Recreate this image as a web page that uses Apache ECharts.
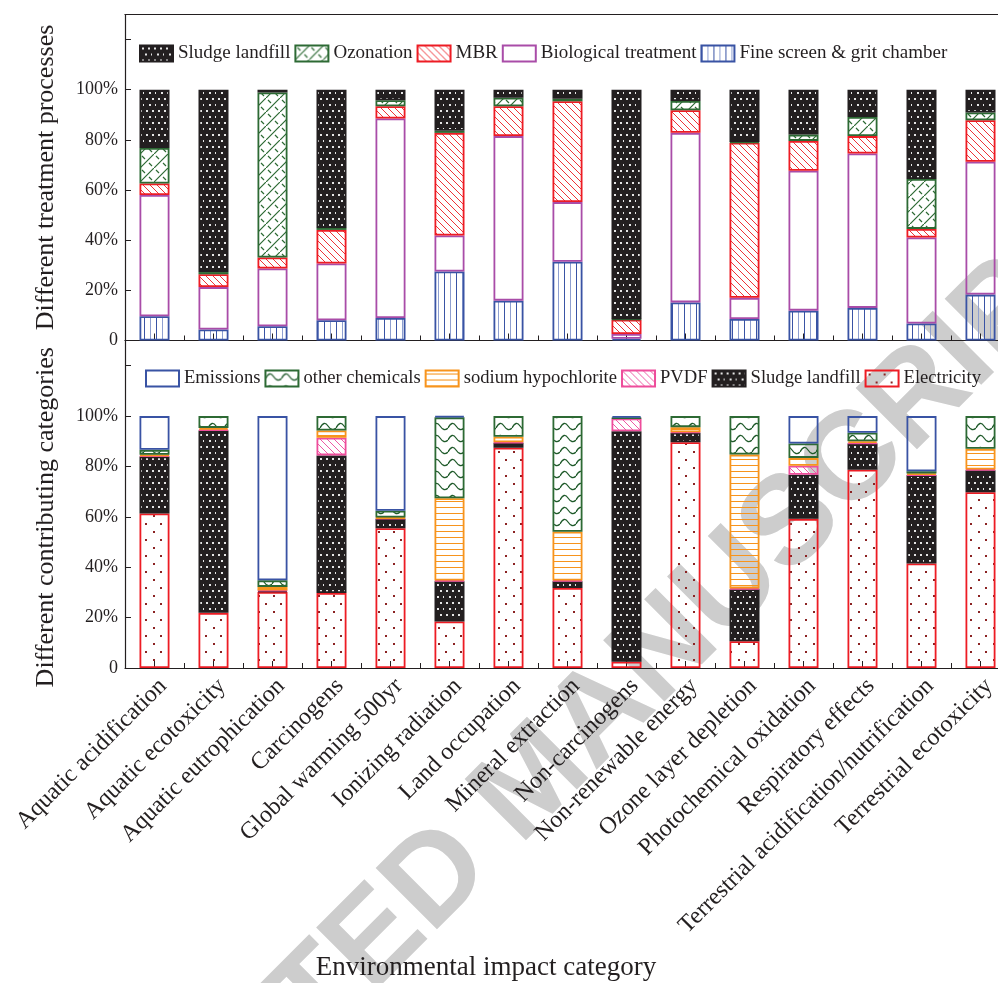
<!DOCTYPE html>
<html>
<head>
<meta charset="utf-8">
<script src="https://cdn.jsdelivr.net/npm/echarts@6/dist/echarts.min.js"></script>
<style>html,body{margin:0;padding:0;background:#fff}#main{width:998px;height:983px}</style>
</head>
<body>
<div id="main"></div>
<script>
const categories = ['Aquatic acidification','Aquatic ecotoxicity','Aquatic eutrophication','Carcinogens','Global warming 500yr','Ionizing radiation','Land occupation','Mineral extraction','Non-carcinogens','Non-renewable energy','Ozone layer depletion','Photochemical oxidation','Respiratory effects','Terrestrial acidification/nutrification','Terrestrial ecotoxicity'];

// Top panel: different treatment processes (%)
const fineScreen = [9.7,4.4,5.7,8.1,9.0,27.5,15.9,31.4,0.7,15.2,8.6,11.9,13.0,6.8,18.3];
const biological = [48.3,16.9,23.0,22.6,79.5,14.4,65.6,23.8,1.9,67.6,8.4,55.8,61.6,34.3,53.0];
const mbr        = [4.6,5.1,4.4,13.4,4.9,40.9,11.9,40.2,5.7,9.0,61.9,11.9,6.9,3.4,16.5];
const ozonation  = [14.2,0.9,65.8,0.8,2.4,0.8,3.4,1.0,0.2,3.7,0.3,2.5,7.6,19.9,3.1];
const sludgeTop  = [23.2,72.7,1.1,55.1,4.2,16.4,3.2,3.6,91.5,4.5,20.8,17.9,10.9,35.6,9.1];

// Bottom panel: different contributing categories (%)
const electricity = [61.3,21.9,30.2,29.8,55.5,18.5,87.4,31.8,2.5,89.6,10.6,59.2,78.7,41.5,69.8];
const sludgeBot   = [22.7,72.4,0.4,54.6,3.7,15.9,2.0,2.6,91.5,3.8,20.7,17.5,10.4,35.0,8.7];
const pvdf        = [0.2,0.3,0.2,7.0,0.2,0.3,0.2,0.3,5.1,0.2,0.3,3.6,0.2,0.2,0.3];
const sodium      = [0.4,0.7,1.4,2.9,0.3,32.7,2.2,19.4,0,2.0,53.1,3.1,0.7,0.5,8.2];
const otherChem   = [2.0,4.7,2.6,5.7,2.7,32.1,8.2,45.9,0.2,4.4,15.3,5.7,3.4,0.9,13.0];
const emissions   = [13.4,0,65.2,0,37.6,0.5,0,0,0.7,0,0,10.9,6.6,21.9,0];

const yTicks = {min:0, max:130, interval:20};

const FONT = "'Liberation Serif','DejaVu Serif',serif";
const INK = '#231f20';

function pat(w,h,draw,bg){
  const c=document.createElement('canvas'); c.width=w; c.height=h;
  const g=c.getContext('2d');
  if(bg){g.fillStyle=bg; g.fillRect(0,0,w,h);}
  draw(g);
  return {image:c, repeat:'repeat'};
}
const pSludge = pat(12,12,g=>{g.fillStyle='#e6e6e6';[[2,2],[8,2],[5,8],[11,8]].forEach(p=>g.fillRect(p[0],p[1],2,2));}, INK);
const pElec = pat(15,16,g=>{g.fillStyle='#8b2323';[[3,3],[10,11]].forEach(p=>g.fillRect(p[0],p[1],2,2));});
function diag(color,s,lw){return pat(s,s,g=>{g.strokeStyle=color;g.lineWidth=lw;g.beginPath();g.moveTo(-1,-1);g.lineTo(s+1,s+1);g.moveTo(-2,s-2);g.lineTo(2,s+2);g.moveTo(s-2,-2);g.lineTo(s+2,2);g.stroke();});}
const pMBR = diag('#ee3338',7,1);
const pPVDF = diag('#ee5aa5',7,1);
const pFine = pat(12,4,g=>{g.fillStyle='#3953a4';g.fillRect(0,0,1,4);g.fillStyle='#8e9fd0';g.fillRect(6,0,1,4);});
const pSodium = pat(4,6,g=>{g.fillStyle='#f7941d';g.fillRect(0,3,4,1);});
const pOzon = pat(14,14,g=>{g.strokeStyle='#2d6a34';g.lineWidth=1.2;g.beginPath();
  g.moveTo(-1,15);g.lineTo(15,-1);
  g.moveTo(2,2);g.lineTo(5,5); g.moveTo(9,9);g.lineTo(12,12);
  g.stroke();});
const pOther = pat(16,12,g=>{g.strokeStyle='#1f5a2a';g.lineWidth=1.3;g.beginPath();
  g.moveTo(0,8);g.quadraticCurveTo(4,0,8,6);g.quadraticCurveTo(12,12,16,8);
  g.stroke();});

const styles = {
  'Sludge landfill': {color:pSludge, borderColor:INK},
  'Ozonation': {color:pOzon, borderColor:'#2d6a34'},
  'MBR': {color:pMBR, borderColor:'#ed1c24'},
  'Biological treatment': {color:'rgba(255,255,255,0)', borderColor:'#a94ca8'},
  'Fine screen & grit chamber': {color:pFine, borderColor:'#3953a4'},
  'Emissions': {color:'rgba(255,255,255,0)', borderColor:'#3953a4'},
  'other chemicals': {color:pOther, borderColor:'#2d6a34'},
  'sodium hypochlorite': {color:pSodium, borderColor:'#f7941d'},
  'PVDF': {color:pPVDF, borderColor:'#ee4d9b'},
  'Electricity': {color:pElec, borderColor:'#ed1c24'}
};

function bar(name, data, idx, stack){
  const st = styles[name];
  return {
    name, type:'bar', stack, xAxisIndex:idx, yAxisIndex:idx, barWidth:30,
    data: data.map(v => v===0 ? '-' : v),
    itemStyle:{color:st.color, borderColor:st.borderColor, borderWidth:1.8},
    emphasis:{disabled:true}, animation:false, z:3
  };
}

const series = [
  bar('Fine screen & grit chamber', fineScreen, 0, 'a'),
  bar('Biological treatment', biological, 0, 'a'),
  bar('MBR', mbr, 0, 'a'),
  bar('Ozonation', ozonation, 0, 'a'),
  bar('Sludge landfill', sludgeTop, 0, 'a'),
  bar('Electricity', electricity, 1, 'b'),
  bar('Sludge landfill', sludgeBot, 1, 'b'),
  bar('PVDF', pvdf, 1, 'b'),
  bar('sodium hypochlorite', sodium, 1, 'b'),
  bar('other chemicals', otherChem, 1, 'b'),
  bar('Emissions', emissions, 1, 'b')
];

const axisLine = {show:true, lineStyle:{color:INK, width:1.2}};
function yAxis(gi, name, pad){
  return {
    type:'value', gridIndex:gi, min:yTicks.min, max:yTicks.max, interval:yTicks.interval,
    axisLine:axisLine, splitLine:{show:false},
    axisTick:{show:true, inside:true, length:6, lineStyle:{color:INK}},
    axisLabel:{fontFamily:FONT, fontSize:18, color:INK, margin:7,
      formatter:v => v>100 ? '' : (v===0 ? '0' : v+'%')},
    name, nameLocation:'middle', nameGap:66,
    nameTextStyle:{fontFamily:FONT, fontSize:26, color:INK, padding:pad}
  };
}
function xAxisMain(gi, showLabels){
  return {
    type:'category', gridIndex:gi, data:categories,
    axisLine:axisLine,
    axisTick:{show:true, inside:true, alignWithLabel:true, interval:0, length:7, lineStyle:{color:INK}},
    axisLabel:{show:showLabels, rotate:45, interval:0, fontFamily:FONT, fontSize:24, color:INK, margin:6, verticalAlign:'top'}
  };
}
function xAxisBound(gi){
  return {
    type:'category', gridIndex:gi, data:categories, position:'bottom',
    axisLine:{show:false},
    axisTick:{show:true, inside:true, interval:0, length:5, lineStyle:{color:INK}},
    axisLabel:{show:false}
  };
}

const legendCommon = {
  itemWidth:33, itemHeight:16, icon:'rect', width:880, orient:'horizontal',
  selectedMode:false
};

const chart = echarts.init(document.getElementById('main'), null, {renderer:'canvas'});
chart.setOption({
  backgroundColor:'#fff',
  animation:false,
  grid:[
    {left:125, right:-12, top:14.5, height:326, outerBoundsMode:'none', containLabel:false},
    {left:125, right:-12, top:340.5, height:327.5, outerBoundsMode:'none', containLabel:false}
  ],
  xAxis:[
    xAxisMain(0,false),
    xAxisMain(1,true),
    xAxisBound(0),
    xAxisBound(1),
    {type:'category', gridIndex:0, data:categories, position:'top', axisLine:axisLine, axisTick:{show:false}, axisLabel:{show:false}}
  ],
  yAxis:[ yAxis(0,'Different treatment processes',[0,0,0,0]), yAxis(1,'Different contributing categories',[0,26,0,0]) ],
  legend:[
    Object.assign({left:134, top:39, itemGap:4, textStyle:{fontFamily:FONT, fontSize:19, color:INK},
      data:['Sludge landfill','Ozonation','MBR','Biological treatment','Fine screen & grit chamber']}, legendCommon),
    Object.assign({left:140, top:364, itemGap:4, textStyle:{fontFamily:FONT, fontSize:18.6, color:INK},
      data:['Emissions','other chemicals','sodium hypochlorite','PVDF','Sludge landfill','Electricity']}, legendCommon)
  ],
  graphic:[
    {type:'text', silent:true, x:486, y:968,
      style:{text:'Environmental impact category', font:"27px 'Liberation Serif'", fill:INK, align:'center', verticalAlign:'middle'}},
    {type:'text', z:-10, silent:true, x:535, y:782, rotation:Math.PI/4,
      style:{text:'ACCEPTED MANUSCRIPT', font:"bold 126px 'Liberation Sans'", fill:'#cdcdcd', align:'center', verticalAlign:'middle'}}
  ],
  series
});
</script>
</body>
</html>
